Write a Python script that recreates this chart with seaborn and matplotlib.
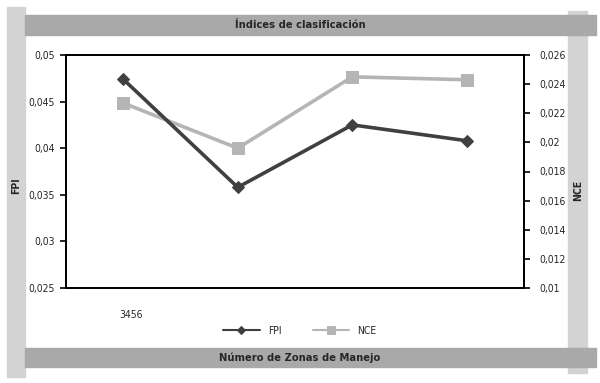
import matplotlib
matplotlib.use('Agg')
import matplotlib.pyplot as plt
from matplotlib.patches import Rectangle
import pandas as pd
import seaborn as sns

# Datos
zonas = ["3", "4", "5", "6"]
fpi = [0.0474, 0.0358, 0.0425, 0.0408]
nce = [0.0227, 0.0196, 0.0245, 0.0243]

sns.set_style("white")
plt.rcParams['font.family'] = ['Liberation Sans Narrow', 'DejaVu Sans']
plt.rcParams['font.stretch'] = 'condensed'

df = pd.DataFrame({"pos": range(len(zonas)), "zona": zonas, "FPI": fpi, "NCE": nce})

W, H = 600, 383
fig = plt.figure(figsize=(6, 3.83), dpi=100)
ax = fig.add_axes([66 / W, 1 - 288 / H, (524 - 66) / W, (288 - 55) / H])
ax2 = ax.twinx()

# bandas grises de fondo (marco del grafico)
def band(x0, y0, x1, y1, color):
    fig.patches.append(Rectangle((x0 / W, 1 - y1 / H), (x1 - x0) / W, (y1 - y0) / H,
                                 transform=fig.transFigure, color=color, zorder=-5))

band(7, 7, 25, 377, "#d3d3d3")
band(568, 11, 587, 373, "#d3d3d3")
band(25, 15, 596, 35, "#a9a9a9")
band(25, 348, 596, 367, "#a9a9a9")

c_fpi = "#404040"
c_nce = "#b5b5b5"
sns.lineplot(data=df, x="pos", y="FPI", ax=ax, color=c_fpi, lw=2.6, marker="D",
             markersize=6.5, markeredgecolor=c_fpi, label="FPI", legend=False, zorder=3)
sns.lineplot(data=df, x="pos", y="NCE", ax=ax2, color=c_nce, lw=2.6, marker="s",
             markersize=8.5, markeredgecolor=c_nce, label="NCE", legend=False, zorder=2)

ax.set_zorder(ax2.get_zorder() + 1)
ax.patch.set_visible(False)

ax.set_xlim(-0.5, len(zonas) - 0.5)
ax.set_ylim(0.025, 0.05)
ax2.set_ylim(0.01, 0.026)
ax.set_yticks([0.025, 0.03, 0.035, 0.04, 0.045, 0.05])
ax.set_yticklabels(["0,025", "0,03", "0,035", "0,04", "0,045", "0,05"])
ax2.set_yticks([0.01, 0.012, 0.014, 0.016, 0.018, 0.02, 0.022, 0.024, 0.026])
ax2.set_yticklabels(["0,01", "0,012", "0,014", "0,016", "0,018", "0,02", "0,022", "0,024", "0,026"])

ax.set_xticks([i - 0.5 for i in range(len(zonas) + 1)])
ax.set_xticklabels([])
ax.set_xticks([0.07], minor=True)
ax.set_xticklabels(["".join(zonas)], minor=True)
ax.tick_params(axis="x", which="minor", length=0, pad=16, labelsize=7.5)
ax.tick_params(axis="x", which="major", length=4, width=1.2, direction="out", color="black")
ax.tick_params(axis="y", length=4, width=1.2, direction="out", labelsize=7.5, pad=4, color="black")
ax2.tick_params(axis="y", length=4, width=1.2, direction="out", labelsize=7.5, pad=7, color="black")
ax.set_xlabel("")
ax.set_ylabel("")
ax2.set_ylabel("")

for a in (ax, ax2):
    for s in a.spines.values():
        s.set_color("black")
        s.set_linewidth(1.3)

fig.text(300 / W, 1 - 25 / H, "Índices de clasificación", ha="center", va="center",
         fontsize=8, fontweight="bold")
fig.text(300 / W, 1 - 358 / H, "Número de Zonas de Manejo", ha="center", va="center",
         fontsize=8, fontweight="bold")
fig.text(16 / W, 1 - 186 / H, "FPI", rotation=90, ha="center", va="center",
         fontsize=7.5, fontweight="bold")
fig.text(578 / W, 1 - 190 / H, "NCE", rotation=90, ha="center", va="center",
         fontsize=7.5, fontweight="bold")

h1, l1 = ax.get_legend_handles_labels()
h2, l2 = ax2.get_legend_handles_labels()
fig.legend(h1 + h2, l1 + l2, loc="center", bbox_to_anchor=(300 / W, 1 - 331 / H), ncol=2,
           frameon=False, fontsize=7.5, handlelength=3.5, columnspacing=3, markerscale=0.7)
for line in fig.legends[0].get_lines():
    line.set_linewidth(1.5)

fig.savefig("out.png", dpi=100)
